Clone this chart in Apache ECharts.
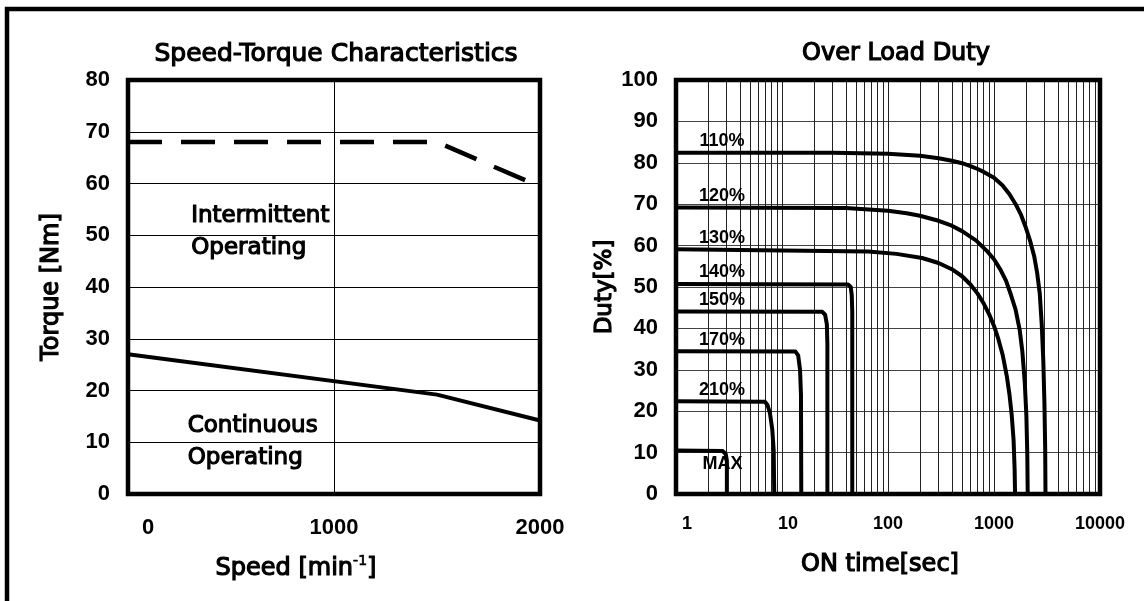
<!DOCTYPE html>
<html><head><meta charset="utf-8">
<script src="https://cdn.jsdelivr.net/npm/echarts@6/dist/echarts.min.js"></script>
<style>html,body{margin:0;padding:0;background:#fff}#c{width:1144px;height:601px}</style>
</head><body><div id="c"></div>
<script>
// ---------- Speed-Torque Characteristics ----------
const speedTicks = [0, 1000, 2000];
const torqueRange = [0, 80];
const intermittentCurve = [[0, 68], [1500, 68], [2000, 59.4]];
const continuousCurve = [[0, 27], [1500, 19.2], [2000, 14.2]];

// ---------- Over Load Duty ----------
const timeTicks = [1, 10, 100, 1000, 10000];
const minorTimeGrid = [2,3,4,5,6,7,8,9,20,30,40,50,60,70,80,90,200,300,400,500,600,700,800,900,2000,3000,4000,5000,6000,7000,8000,9000];
const dutyNames = ['110%', '120%', '130%', '140%', '150%', '170%', '210%', 'MAX'];
const duty110 = [[1,82.4],[30,82.4],[100,82.2],[200,81.7],[300,81.1],[400,80.5],[500,79.9],[600,79.2],[700,78.5],[800,77.8],[1000,76.4],[1200,74.6],[1400,72.4],[1600,70],[1800,67.4],[2000,64.3],[2200,61],[2400,57.3],[2550,53.5],[2700,48.5],[2820,41],[2920,32],[2990,22],[3040,11],[3060,0]];
const duty120 = [[1,69.2],[40,69.1],[100,68.4],[150,67.8],[200,67.2],[300,66],[400,64.8],[500,63.5],[680,61.2],[850,58.8],[1000,56.7],[1150,54.2],[1300,51.5],[1450,48],[1600,44.5],[1750,39.5],[1850,34.5],[1950,27],[2020,19],[2060,10],[2080,0]];
const duty130 = [[1,59.1],[65,58.6],[120,58],[210,57],[300,55.8],[400,54.3],[500,52.6],[600,50.6],[700,48.4],[800,46],[900,43.4],[1000,40.6],[1100,37.4],[1210,33.5],[1320,28.5],[1400,24],[1470,19],[1530,13],[1565,6],[1580,0]];
const duty140 = [[1,50.7],[42,50.6],[44.5,50],[45.5,48],[46,44],[46,0]];
const duty150 = [[1,44.1],[24,44],[25.5,43.3],[26.5,41],[26.8,36],[26.8,0]];
const duty170 = [[1,34.5],[13.4,34.4],[14.2,33.5],[14.8,30],[15.1,24],[15.2,0]];
const duty210 = [[1,22.4],[6.9,22.3],[7.3,21.5],[7.7,19.5],[8.1,15.5],[8.35,10.5],[8.45,0]];
const dutyMax = [[1,10.5],[2.75,10.4],[2.95,9.6],[3.02,8],[3.02,0]];
const dutyCurves = [duty110, duty120, duty130, duty140, duty150, duty170, duty210, dutyMax];

const TEXTFONT = '"DejaVu Sans", sans-serif';
const NUMFONT = '"Liberation Sans", Arial, sans-serif';
const tickStyle = { fontFamily: NUMFONT, fontWeight: 'bold', fontSize: 22, color: '#000' };
const smallTick = { fontFamily: NUMFONT, fontWeight: 'bold', fontSize: 18, color: '#000' };
const textStyle = { fontFamily: TEXTFONT, fontWeight: 'normal', fontSize: 24, color: '#000', textBorderColor: '#000', textBorderWidth: 1.2 };

const chart = echarts.init(document.getElementById('c'), null, { renderer: 'canvas' });

const dutySeries = dutyCurves.map((d, i) => {
  const isMax = dutyNames[i] === 'MAX';
  const s = {
    name: dutyNames[i], type: 'line', xAxisIndex: 1, yAxisIndex: 1,
    data: d, showSymbol: false, symbol: 'none', z: 4,
    lineStyle: { color: '#000', width: 4, cap: 'butt', join: 'round' },
    markPoint: {
      symbol: 'circle', symbolSize: 0, silent: true,
      data: [{ coord: [isMax ? 2.75 : 2.72, d[0][1] + (isMax ? -3.3 : 2.8)] }],
      label: { show: true, position: 'inside', formatter: dutyNames[i], fontFamily: NUMFONT, fontWeight: 'bold', fontSize: 18, color: '#000' }
    }
  };
  if (i === 0) {
    s.markLine = {
      silent: true, symbol: 'none', z: 1, animation: false,
      lineStyle: { color: '#222', width: 1, type: 'solid' },
      label: { show: false },
      data: minorTimeGrid.map(v => ({ xAxis: v }))
    };
  }
  return s;
});

const option = {
  animation: false,
  backgroundColor: '#fff',
  title: [
    { text: 'Speed-Torque Characteristics', left: 331, top: 37, textAlign: 'center',
      textStyle: Object.assign({}, textStyle, { fontSize: 25 }) },
    { text: 'Over Load Duty', left: 891, top: 37, textAlign: 'center',
      textStyle: Object.assign({}, textStyle, { fontSize: 24 }) }
  ],
  graphic: [
    { type: 'rect', shape: { x: 7, y: 9, width: 1300, height: 800 }, style: { fill: null, stroke: '#000', lineWidth: 4.5 }, z: 100 }
  ],
  grid: [
    { left: 128, top: 80, width: 412, height: 414, show: true, borderColor: '#000', borderWidth: 4.5, backgroundColor: 'transparent', z: 3 },
    { left: 676, top: 80, width: 424, height: 414, show: true, borderColor: '#000', borderWidth: 4.5, backgroundColor: 'transparent', z: 3 }
  ],
  xAxis: [
    { type: 'value', gridIndex: 0, min: speedTicks[0], max: speedTicks[speedTicks.length - 1], interval: 1000,
      axisLine: { show: false }, axisTick: { show: false },
      splitLine: { show: true, lineStyle: { color: '#000', width: 1 } },
      axisLabel: Object.assign({}, tickStyle, { margin: 23,
        formatter: v => v === 0 ? '{o|0}' : String(v),
        rich: { o: Object.assign({}, tickStyle, { padding: [0, 0, 0, 40] }) } }),
      name: 'Speed [min{sup|-1}]', nameLocation: 'middle', nameGap: 60,
      nameTextStyle: Object.assign({}, textStyle, { padding: [0, 76, 0, 0],
        rich: { sup: Object.assign({}, textStyle, { fontSize: 14, textBorderWidth: 0.7, padding: [0, 0, 16, 0] }) } })
    },
    { type: 'log', gridIndex: 1, logBase: 10, min: timeTicks[0], max: timeTicks[timeTicks.length - 1],
      axisLine: { show: false }, axisTick: { show: false },
      splitLine: { show: true, lineStyle: { color: '#222', width: 1 } },
      axisLabel: Object.assign({}, smallTick, { margin: 21,
        formatter: v => v === 1 ? '{a|1}' : (v === 10 ? '{b|10}' : String(v)),
        rich: { a: Object.assign({}, smallTick, { padding: [0, 0, 0, 22] }),
                b: Object.assign({}, smallTick, { padding: [0, 0, 0, 12] }) } }),
      name: 'ON time[sec]', nameLocation: 'middle', nameGap: 59,
      nameTextStyle: Object.assign({}, textStyle, { padding: [0, 16, 0, 0] })
    }
  ],
  yAxis: [
    { type: 'value', gridIndex: 0, min: torqueRange[0], max: torqueRange[1], interval: 10,
      axisLine: { show: false }, axisTick: { show: false },
      splitLine: { show: true, lineStyle: { color: '#000', width: 1 } },
      axisLabel: Object.assign({}, tickStyle, { margin: 18 }),
      name: 'Torque [Nm]', nameLocation: 'middle', nameGap: 64, nameTextStyle: textStyle
    },
    { type: 'value', gridIndex: 1, min: 0, max: 100, interval: 10,
      axisLine: { show: false }, axisTick: { show: false },
      splitLine: { show: true, lineStyle: { color: '#444', width: 1 } },
      axisLabel: Object.assign({}, tickStyle, { margin: 18 }),
      name: 'Duty[%]', nameLocation: 'middle', nameGap: 58, nameTextStyle: Object.assign({}, textStyle, { fontSize: 23 })
    }
  ],
  series: [
    { name: 'Intermittent', type: 'line', xAxisIndex: 0, yAxisIndex: 0, data: intermittentCurve,
      symbol: 'none', z: 4,
      lineStyle: { color: '#000', width: 4.5, type: [34, 19], cap: 'butt' },
      markPoint: { symbol: 'circle', symbolSize: 0, silent: true,
        data: [{ coord: [307, 50.6] }],
        label: Object.assign({ show: true, position: 'right', distance: 0, formatter: 'Intermittent\nOperating', align: 'left', lineHeight: 32 }, textStyle, { fontSize: 23 }) }
    },
    { name: 'Continuous', type: 'line', xAxisIndex: 0, yAxisIndex: 0, data: continuousCurve,
      symbol: 'none', z: 4,
      lineStyle: { color: '#000', width: 4, cap: 'butt' },
      markPoint: { symbol: 'circle', symbolSize: 0, silent: true,
        data: [{ coord: [290, 10.0] }],
        label: Object.assign({ show: true, position: 'right', distance: 0, formatter: 'Continuous\nOperating', align: 'left', lineHeight: 32 }, textStyle, { fontSize: 23 }) }
    }
  ].concat(dutySeries)
};
chart.setOption(option);
</script>
</body></html>
